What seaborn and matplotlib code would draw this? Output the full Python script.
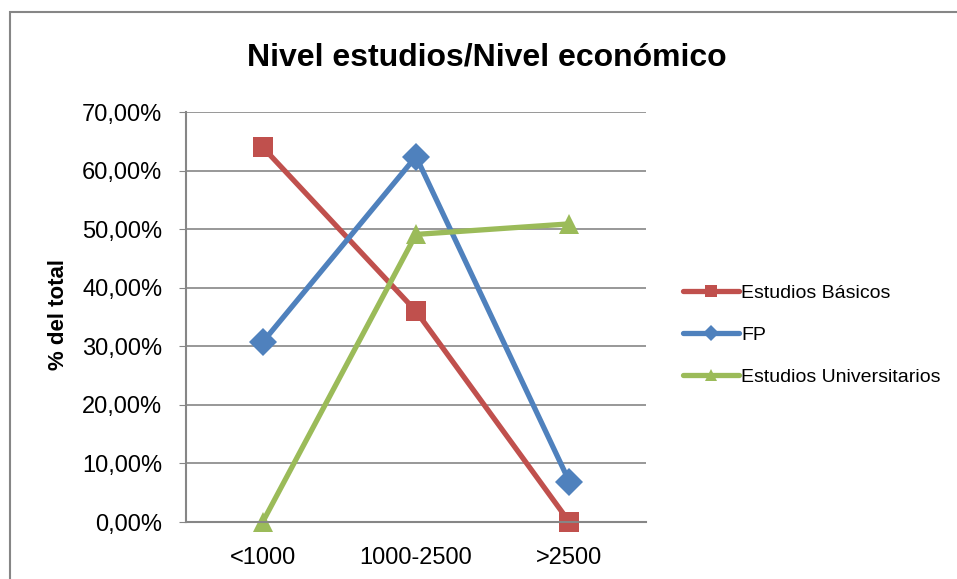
import pandas as pd
import matplotlib.pyplot as plt
import matplotlib.ticker as mticker
from matplotlib.patches import Rectangle
import seaborn as sns

# nivel economico (ingresos) por nivel de estudios
categorias = ['<1000', '1000-2500', '>2500']
basicos = [0.640, 0.360, 0.000]
fp = [0.307, 0.624, 0.069]
universitarios = [0.000, 0.491, 0.509]
series = ['Estudios Básicos', 'FP', 'Estudios Universitarios']

df = pd.DataFrame({
    'nivel': categorias * 3,
    'valor': basicos + fp + universitarios,
    'estudios': [s for s in series for _ in categorias],
})

palette = {'Estudios Básicos': '#C0504D', 'FP': '#4F81BD', 'Estudios Universitarios': '#9BBB59'}
markers = {'Estudios Básicos': 's', 'FP': 'D', 'Estudios Universitarios': '^'}

sns.set_style('white')
plt.rcParams['font.family'] = ['Liberation Sans', 'DejaVu Sans']
plt.rcParams['text.color'] = 'black'
plt.rcParams['xtick.color'] = 'black'
plt.rcParams['ytick.color'] = 'black'

fig = plt.figure(figsize=(9.57, 5.79), dpi=100)
ax = fig.add_axes([186 / 957, 1 - 522 / 579, 460 / 957, 410 / 579])

sns.lineplot(data=df, x='nivel', y='valor', hue='estudios', style='estudios',
             palette=palette, markers=markers, dashes=False, sort=False,
             linewidth=3.8, markersize=14, markeredgewidth=0, ax=ax, clip_on=False)

ax.set_xlim(-0.5, 2.5)
ax.set_ylim(0, 0.7)
ax.set_yticks([i / 10 for i in range(8)])
ax.yaxis.set_major_formatter(mticker.FuncFormatter(lambda v, p: f'{v * 100:.2f}%'.replace('.', ',')))
ax.grid(axis='y', color='#868686', linewidth=1.2)
ax.set_axisbelow(True)
for side in ['top', 'right']:
    ax.spines[side].set_visible(False)
for side in ['left', 'bottom']:
    ax.spines[side].set_color('#868686')
    ax.spines[side].set_linewidth(1.5)
ax.tick_params(axis='y', which='major', length=5, color='#868686', left=True, labelsize=17, pad=12)
ax.tick_params(axis='x', length=0, labelsize=17, pad=18)
ax.set_xlabel('')
ax.set_ylabel('')

fig.text(58 / 957, 1 - 315 / 579, '% del total', rotation=90, ha='center', va='center',
         fontsize=16, fontweight='bold')
fig.text(487 / 957, 1 - 57 / 579, 'Nivel estudios/Nivel económico', ha='center', va='center',
         fontsize=23, fontweight='bold')

leg = ax.legend(loc='center left', bbox_to_anchor=(1.08, 0.456), frameon=False, fontsize=14,
                handlelength=2.9, handletextpad=0.1, labelspacing=1.25, borderaxespad=0,
                borderpad=0, title=None)
for h in leg.legend_handles:
    h.set_markersize(8)

fig.patches.append(Rectangle((10 / 957, -0.1), 1.2, 1.1 - 12 / 579, transform=fig.transFigure,
                             fill=False, edgecolor='#868686', linewidth=1.5))

fig.savefig('out.png', dpi=100)
